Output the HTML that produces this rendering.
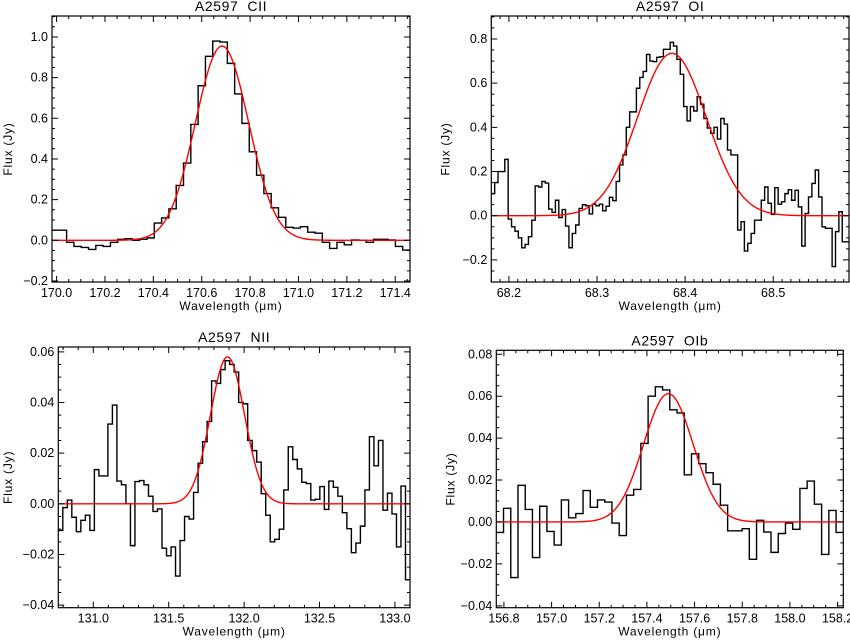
<!DOCTYPE html>
<html><head><meta charset="utf-8"><style>
html,body{margin:0;padding:0;background:#fff;}
svg{display:block;font-family:"Liberation Sans",sans-serif;}
</style></head><body>
<svg id="fig" width="850" height="642" viewBox="0 0 850 642" xmlns="http://www.w3.org/2000/svg"></svg>
<script>
// ---- Panel 1: CII ----
const cii_flux = [0.05,0.05,-0.01,-0.03,-0.035,-0.045,-0.025,-0.03,-0.01,0.005,0.008,0,0.005,0.012,0.085,0.11,0.155,0.27,0.38,0.57,0.76,0.905,0.98,0.975,0.87,0.72,0.575,0.435,0.32,0.23,0.16,0.113,0.064,0.06,0.067,0.04,0.035,-0.01,-0.04,-0.01,-0.022,0.002,0,-0.01,0.005,0.005,0.002,-0.03,-0.048];
const cii_range = [169.981,171.461];
const cii_fit = [0.955,170.684,0.11];
// ---- Panel 2: OI ----
const oi_flux = [0.1,0.15,0.2,0.2,0.255,-0.015,-0.05,-0.07,-0.1,-0.145,-0.13,-0.095,-0.02,0.135,0.13,0.155,0.148,0.03,0.015,0.07,-0.008,0.028,-0.047,-0.145,-0.08,-0.042,0.033,0.05,0.045,0.008,0.052,0.045,0.052,0.022,0.043,0.083,0.068,0.155,0.23,0.275,0.4,0.47,0.47,0.577,0.626,0.653,0.73,0.7,0.697,0.717,0.72,0.753,0.753,0.785,0.768,0.708,0.64,0.494,0.429,0.494,0.474,0.539,0.505,0.44,0.397,0.373,0.4,0.347,0.44,0.415,0.297,0.275,0.275,-0.065,-0.027,-0.16,-0.125,-0.08,-0.02,-0.02,0.07,0.13,0.056,0.006,0.127,0.052,0.063,0.1,0.118,0.07,0.115,0.04,-0.137,0.01,0.085,0.146,0.207,0.085,-0.05,-0.057,-0.057,-0.23,-0.072,0.018,-0.118,-0.118];
const oi_range = [68.18,68.586];
const oi_fit = [0.735,68.385,0.039];
// ---- Panel 3: NII ----
const nii_flux = [-0.0105,-0.0015,0.0015,-0.0053,-0.011,-0.0065,-0.0045,-0.0105,0.0135,0.011,0.011,0.0315,0.039,0.009,0.0075,0,-0.0165,0.0088,0.0092,0.0075,0.003,-0.003,-0.002,-0.0175,-0.0205,-0.017,-0.0285,-0.0145,-0.005,-0.006,0.0045,0.016,0.0245,0.0325,0.0485,0.0475,0.053,0.0565,0.055,0.052,0.04,0.0395,0.025,0.021,0.0165,0.004,-0.0045,-0.015,-0.014,-0.01,0.0055,0.0225,0.0175,0.0138,0.0085,0.008,0.0015,0.0018,0.0068,-0.0022,0.009,0.0065,0.003,-0.0035,-0.0098,-0.0193,-0.0155,-0.0088,0.0055,0.0265,0.015,0.025,-0.0025,0.0042,-0.004,-0.017,0.007,-0.03];
const nii_range = [130.768,133.1];
const nii_fit = [0.058,131.89,0.113];
// ---- Panel 4: OIb ----
const oib_flux = [-0.005,0.0065,-0.0265,0.0175,0.006,-0.017,0.0075,-0.0045,-0.011,0.0105,0.002,0.004,0.015,0.007,0.0105,0.0095,-0.0005,-0.0065,0.0128,0.0155,0.0375,0.06,0.0645,0.063,0.0535,0.052,0.0225,0.0325,0.0278,0.0235,0.018,0.008,-0.0042,-0.0042,-0.0032,-0.0178,0.0008,-0.0048,-0.0145,-0.0055,-0.0005,-0.0035,0.016,0.0195,0.0085,-0.0155,0.0055,-0.005];
const oib_range = [156.768,158.224];
const oib_fit = [0.0612,157.49,0.104];

const ySpans = {cii:[-0.205,1.103], oi:[-0.30,0.904], nii:[-0.041,0.0619], oib:[-0.0409,0.0819]};
const xTickLabels = {cii:["170.0","170.2","170.4","170.6","170.8","171.0","171.2","171.4"], oi:["68.2","68.3","68.4","68.5"], nii:["131.0","131.5","132.0","132.5","133.0"], oib:["156.8","157.0","157.2","157.4","157.6","157.8","158.0","158.2"]};
const yTickLabels = {cii:["\u22120.2","0.0","0.2","0.4","0.6","0.8","1.0"], oi:["\u22120.2","0.0","0.2","0.4","0.6","0.8"], nii:["\u22120.04","\u22120.02","0.00","0.02","0.04","0.06"], oib:["\u22120.04","\u22120.02","0.00","0.02","0.04","0.06","0.08"]};

const NS="http://www.w3.org/2000/svg";
const svg=document.getElementById('fig');
function mk(tag,attrs,parent){const e=document.createElementNS(NS,tag);for(const k in attrs)e.setAttribute(k,attrs[k]);(parent||svg).appendChild(e);return e;}

function panel(key,title,box,flux,xr,fit,xMinorN,yMinorStep){
  const [L,T,R,B]=box;
  const yr=ySpans[key];
  const g=mk('g',{});
  
  
  const sx=v=>L+(v-xr[0])/(xr[1]-xr[0])*(R-L);
  const sy=v=>B-(v-yr[0])/(yr[1]-yr[0])*(B-T);
  const cp=mk('clipPath',{id:'cp-'+key},g);
  mk('rect',{x:L,y:T,width:R-L,height:B-T},cp);
  const n=flux.length, w=(xr[1]-xr[0])/n;
  let d='';
  for(let i=0;i<n;i++){
    const x0=sx(xr[0]+i*w), x1=sx(xr[0]+(i+1)*w), y=sy(flux[i]);
    d+=(i===0?'M'+x0+' '+y:'L'+x0+' '+y)+'L'+x1+' '+y;
  }
  const h=mk('path',{d:d,fill:'none',stroke:'#000','stroke-width':1.4,'clip-path':'url(#cp-'+key+')'},g);
  
  
  let fd='';
  for(let i=0;i<=400;i++){
    const x=xr[0]+(xr[1]-xr[0])*i/400;
    const y=fit[0]*Math.exp(-Math.pow(x-fit[1],2)/(2*fit[2]*fit[2]));
    fd+=(i?'L':'M')+sx(x).toFixed(2)+' '+sy(y).toFixed(2);
  }
  const f=mk('path',{d:fd,fill:'none',stroke:'#f00','stroke-width':1.4,'clip-path':'url(#cp-'+key+')'},g);
  
  
  const fr=mk('rect',{x:L,y:T,width:R-L,height:B-T,fill:'none',stroke:'#000','stroke-width':1.2},g);
  
  
  let td='';
  const xl=xTickLabels[key];
  const xv=xl.map(Number);
  const xstep=xv[1]-xv[0];
  const xmin=xstep/xMinorN;
  for(let v=xv[0]-xstep;v<=xr[1]+1e-9;v+=xmin){
    if(v<xr[0]-1e-9)continue;
    const major=xv.some(m=>Math.abs(m-v)<xmin*0.1);
    const len=major?6:3, px=sx(v);
    td+='M'+px+' '+B+'v'+(-len)+'M'+px+' '+T+'v'+len;
  }
  xl.forEach((lab,i)=>{
    const t=mk('text',{x:sx(xv[i]),y:B+15,'font-size':12.5,'text-anchor':'middle'},g);
    t.textContent=lab;
    
    
  });
  const yl=yTickLabels[key];
  const yv=yl.map(s=>Number(s.replace('\u2212','-')));
  for(let v=yv[0]-yMinorStep*8;v<=yr[1]+1e-9;v+=yMinorStep){
    if(v<yr[0]-1e-9)continue;
    const major=yv.some(m=>Math.abs(m-v)<yMinorStep*0.1);
    const len=major?6:3, py=sy(v);
    td+='M'+L+' '+py+'h'+len+'M'+R+' '+py+'h'+(-len);
  }
  yl.forEach((lab,i)=>{
    const t=mk('text',{x:L-4,y:sy(yv[i])+4,'font-size':12.5,'text-anchor':'end'},g);
    t.textContent=lab;
    
    
  });
  const tk=mk('path',{d:td,stroke:'#000','stroke-width':1,fill:'none'},g);
  
  
  const tt=mk('text',{x:(L+R)/2,y:T-5,'font-size':14,'letter-spacing':0.6,'text-anchor':'middle'},g);
  tt.textContent=title;
  
  
  const xt=mk('text',{x:(L+R)/2,y:B+28,'font-size':12,'letter-spacing':0.8,'text-anchor':'middle'},g);
  xt.textContent='Wavelength (\u03bcm)';
  
  
  const yx=(key==='cii'||key==='nii')?12:(L-42);
  const yt=mk('text',{x:yx,y:(T+B)/2,'font-size':12,'letter-spacing':0.8,'text-anchor':'middle',transform:'rotate(-90 '+yx+' '+(T+B)/2+')'},g);
  yt.textContent='Flux (Jy)';
  
  
}
panel('cii','A2597\u00a0\u00a0CII',[52,16,410,282],cii_flux,cii_range,cii_fit,4,0.05);
panel('oi','A2597\u00a0\u00a0OI',[491.3,16,849,282],oi_flux,oi_range,oi_fit,10,0.05);
panel('nii','A2597\u00a0\u00a0NII',[58.3,347,410,607.7],nii_flux,nii_range,nii_fit,5,0.005);
panel('oib','A2597\u00a0\u00a0OIb',[496.3,350.3,843.3,607.7],oib_flux,oib_range,oib_fit,4,0.005);
</script>
</body></html>
